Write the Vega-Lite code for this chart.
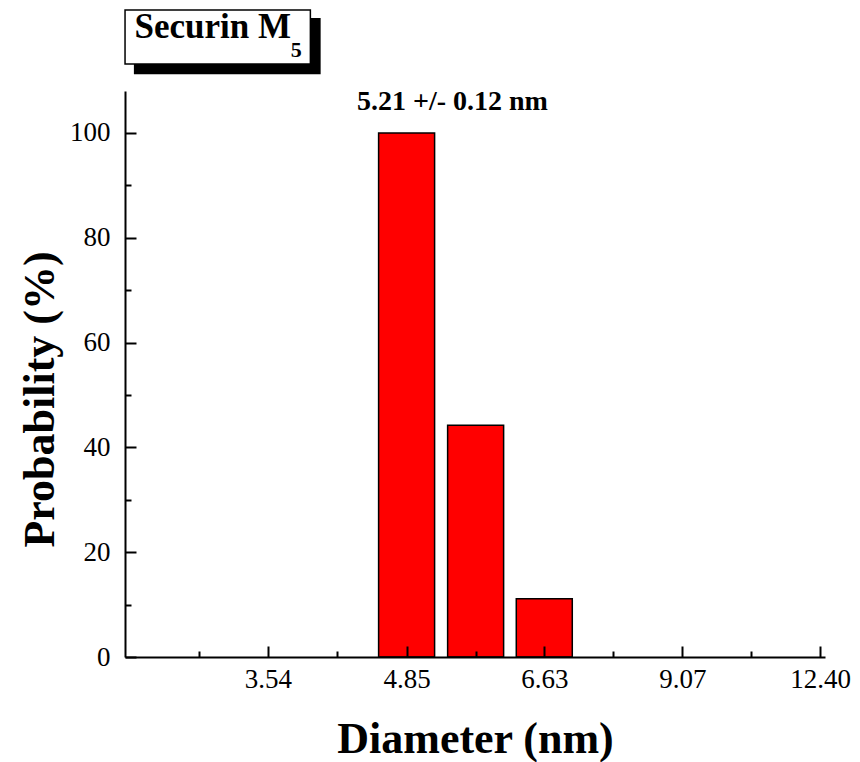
{
  "$schema": "https://vega.github.io/schema/vega-lite/v6.json",
  "width": 700,
  "height": 566,
  "autosize": {"type": "none"},
  "padding": {"left": 125, "top": 91, "right": 35, "bottom": 105},
  "background": "white",
  "config": {"view": {"stroke": null}, "font": "Liberation Serif"},
  "layer": [
    {
      "data": {"values": [
        {"diameter": 4.85, "probability": 100},
        {"diameter": 5.673, "probability": 44.2},
        {"diameter": 6.63, "probability": 11.1}
      ]},
      "mark": {"type": "bar", "orient": "vertical", "width": 56, "fill": "#ff0000", "stroke": "#000000", "strokeWidth": 1.5},
      "encoding": {
        "x": {
          "field": "diameter", "type": "quantitative",
          "scale": {"type": "log", "domain": [2.588, 12.4], "nice": false, "zero": false},
          "axis": {
            "title": "Diameter (nm)",
            "values": [3.027, 3.54, 4.14, 4.85, 5.673, 6.63, 7.755, 9.07, 10.61, 12.4],
            "labelExpr": "(datum.value == 3.54 || datum.value == 4.85 || datum.value == 6.63 || datum.value == 9.07 || datum.value == 12.4) ? format(datum.value, '.2f') : ''",
            "tickSize": {"expr": "(datum.value == 3.54 || datum.value == 4.85 || datum.value == 6.63 || datum.value == 9.07 || datum.value == 12.4) ? -11 : -6"},
            "tickWidth": 2, "tickColor": "#000000",
            "domainWidth": 2, "domainColor": "#000000",
            "grid": false,
            "labelFont": "Liberation Serif", "labelFontSize": 27, "labelColor": "#000000",
            "labelPadding": 20, "labelBaseline": "top", "labelAlign": "center",
            "labelFlush": false, "labelOverlap": false,
            "titleFont": "Liberation Serif", "titleFontSize": 44, "titleFontWeight": "bold", "titleColor": "#000000",
            "titleX": 350, "titleY": 95, "titleBaseline": "alphabetic", "titleAlign": "center",
            "zindex": 1
          }
        },
        "y": {
          "field": "probability", "type": "quantitative",
          "scale": {"domain": [0, 108], "nice": false, "zero": true},
          "axis": {
            "title": "Probability (%)",
            "values": [0, 10, 20, 30, 40, 50, 60, 70, 80, 90, 100],
            "labelExpr": "datum.value % 20 == 0 ? datum.label : ''",
            "tickSize": {"expr": "datum.value % 20 == 0 ? -11 : -6"},
            "tickWidth": 2, "tickColor": "#000000",
            "domainWidth": 2, "domainColor": "#000000",
            "grid": false,
            "labelFont": "Liberation Serif", "labelFontSize": 27, "labelColor": "#000000",
            "labelPadding": 26, "labelFlush": false, "labelOverlap": false,
            "titleFont": "Liberation Serif", "titleFontSize": 44, "titleFontWeight": "bold", "titleColor": "#000000",
            "titleX": -72, "titleY": 308, "titleBaseline": "alphabetic", "titleAlign": "center", "titleAngle": -90,
            "zindex": 1
          }
        }
      }
    },
    {
      "data": {"values": [{}]},
      "mark": {"type": "rect", "fill": "#000000", "clip": false},
      "encoding": {
        "x": {"datum": 2.611, "type": "quantitative"},
        "x2": {"datum": 3.99},
        "y": {"datum": 121.95, "type": "quantitative"},
        "y2": {"datum": 111.2}
      }
    },
    {
      "data": {"values": [{}]},
      "mark": {"type": "rect", "fill": "#ffffff", "stroke": "#000000", "strokeWidth": 1.5, "clip": false},
      "encoding": {
        "x": {"datum": 2.559, "type": "quantitative"},
        "x2": {"datum": 3.898},
        "y": {"datum": 123.47, "type": "quantitative"},
        "y2": {"datum": 113.17}
      }
    },
    {
      "data": {"values": [{}]},
      "mark": {"type": "text", "text": "Securin M", "font": "Liberation Serif", "fontSize": 35, "fontWeight": "bold", "color": "#000000", "align": "left", "baseline": "alphabetic", "clip": false},
      "encoding": {
        "x": {"datum": 2.615, "type": "quantitative"},
        "y": {"datum": 118.1, "type": "quantitative"}
      }
    },
    {
      "data": {"values": [{}]},
      "mark": {"type": "text", "text": "5", "font": "Liberation Serif", "fontSize": 22, "fontWeight": "bold", "color": "#000000", "align": "left", "baseline": "alphabetic", "clip": false},
      "encoding": {
        "x": {"datum": 3.728, "type": "quantitative"},
        "y": {"datum": 114.5, "type": "quantitative"}
      }
    },
    {
      "data": {"values": [{}]},
      "mark": {"type": "text", "text": "5.21 +/- 0.12 nm", "font": "Liberation Serif", "fontSize": 28, "fontWeight": "bold", "color": "#000000", "align": "center", "baseline": "alphabetic", "clip": false},
      "encoding": {
        "x": {"datum": 5.382, "type": "quantitative"},
        "y": {"datum": 104.4, "type": "quantitative"}
      }
    }
  ]
}
